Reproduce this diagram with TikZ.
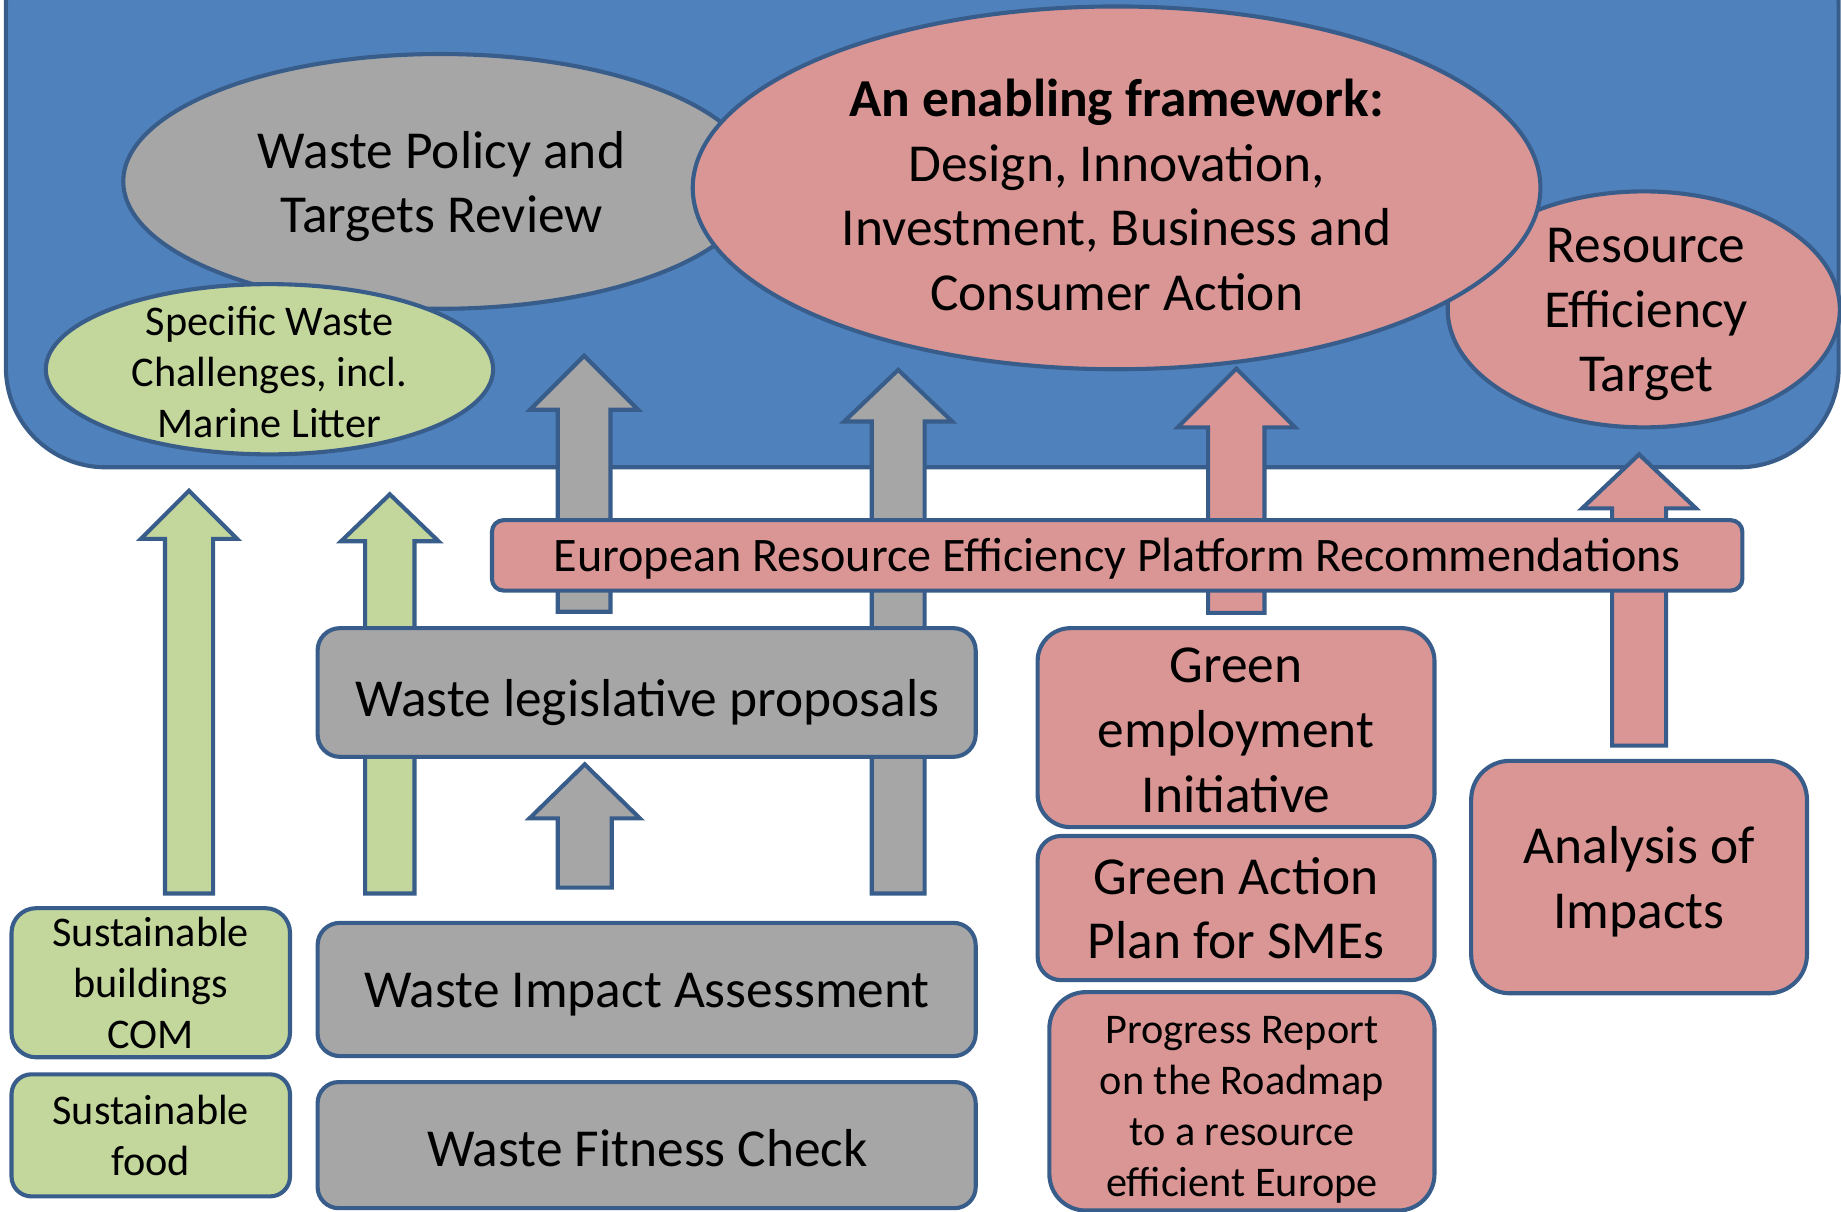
\documentclass[tikz,border=0pt]{standalone}
\usepackage{fontspec}
\setmainfont{Carlito}
\usetikzlibrary{shapes.geometric}
\definecolor{bluefill}{HTML}{4F81BD}
\definecolor{edgecol}{HTML}{385D8A}
\definecolor{grayfill}{HTML}{A6A6A6}
\definecolor{greenfill}{HTML}{C3D69B}
\definecolor{pinkfill}{HTML}{D99694}
\newcommand\bigtxt{\fontsize{45.5}{55}\selectfont}
\newcommand\smalltxt{\fontsize{36}{43.5}\selectfont}
\newcommand\bartxt{\fontsize{41}{48}\selectfont}
\tikzset{
  shp/.style={draw=edgecol, line width=3.5pt},
  ell/.style={shp, ellipse, inner sep=0pt},
  lbl/.style={align=center, inner sep=0pt},
  boxshape/.style={shp, rectangle, inner sep=0pt, align=center},
  blk/.style={shp, line join=miter},
}
% name, cx, tip, base, bottom, shaft half width, head half width, fill
\newcommand\blkarrow[8]{%
  \draw[blk, fill=#8] (#2-#6,#5) -- (#2-#6,#4) -- (#2-#7,#4) -- (#2,#3) coordinate (#1)
    -- (#2+#7,#4) -- (#2+#6,#4) -- (#2+#6,#5) -- cycle;}
\begin{document}
\begin{tikzpicture}[x=1pt,y=-1pt]
\useasboundingbox (0,0) rectangle (1568,1032);
\clip (0,0) rectangle (1568,1032);

% blue region
\draw[shp, fill=bluefill, rounded corners=85] (5,-80) rectangle (1566,398);
\coordinate (region) at (785,200);

% ellipses
\node[ell, fill=grayfill, minimum width=540, minimum height=217] (policy) at (375,154.5) {};
\node[lbl, font=\bigtxt] (policyT) at (376,159) {Waste Policy and\\Targets Review};

\node[ell, fill=greenfill, minimum width=381, minimum height=145] (specific) at (229.5,314.5) {};
\node[lbl, font=\smalltxt] (specificT) at (229.5,317) {Specific Waste\\Challenges, incl.\\Marine Litter};

\node[ell, fill=pinkfill, minimum width=334, minimum height=201] (target) at (1400,263.5) {};
\node[lbl, font=\bigtxt] (targetT) at (1402,268) {Resource\\Efficiency\\Target};

\node[ell, fill=pinkfill, minimum width=722, minimum height=309] (frame) at (951,160) {};
\node[lbl, font=\bigtxt] (frameT) at (951,166) {\textbf{An enabling framework:}\\Design, Innovation,\\Investment, Business and\\Consumer Action};

% block arrows
\blkarrow{ga1}{161}{418}{459}{761}{20.5}{41}{greenfill}
\blkarrow{ga2}{332}{421}{461}{761}{21}{41.5}{greenfill}
\blkarrow{ya1}{497.5}{303}{349}{521}{22.5}{46}{grayfill}
\blkarrow{ya2}{765}{315}{359}{761}{22.5}{46}{grayfill}
\blkarrow{ya3}{498}{651}{697}{756}{23}{47}{grayfill}
\blkarrow{pa1}{1053}{314}{364}{522}{24}{50}{pinkfill}
\blkarrow{pa2}{1396}{387}{433}{635}{23}{48.5}{pinkfill}

% platform bar
\node[boxshape, fill=pinkfill, rounded corners=10, minimum width=1065, minimum height=60] (platform) at (951.5,473) {};
\node[lbl, font=\bartxt] (platformT) at (951.5,476) {European Resource Efficiency Platform Recommendations};

% grey boxes
\node[boxshape, fill=grayfill, rounded corners=19, minimum width=560.5, minimum height=109.6] (legis) at (550.75,589.8) {};
\node[lbl, font=\bigtxt] (legisT) at (551.5,598) {Waste legislative proposals};
\node[boxshape, fill=grayfill, rounded corners=19, minimum width=560.5, minimum height=113.5] (impact) at (550.75,842.75) {};
\node[lbl, font=\bigtxt] (impactT) at (551,847) {Waste Impact Assessment};
\node[boxshape, fill=grayfill, rounded corners=18, minimum width=560.5, minimum height=107.4] (fitness) at (550.75,975.3) {};
\node[lbl, font=\bigtxt] (fitnessT) at (551.5,978) {Waste Fitness Check};

% green boxes
\node[boxshape, fill=greenfill, rounded corners=21, minimum width=237.2, minimum height=127, font=\smalltxt] (buildings) at (128.4,837) {Sustainable\\buildings\\COM};
\node[boxshape, fill=greenfill, rounded corners=17, minimum width=237.2, minimum height=104, font=\smalltxt] (food) at (128.4,967) {Sustainable\\food};

% pink boxes
\node[boxshape, fill=pinkfill, rounded corners=28, minimum width=338, minimum height=169.5] (employ) at (1052.75,619.75) {};
\node[lbl, font=\bigtxt] (employT) at (1052.75,622) {Green\\employment\\Initiative};
\node[boxshape, fill=pinkfill, rounded corners=20, minimum width=338, minimum height=122.8, font=\bigtxt] (sme) at (1052.75,773.4) {Green Action\\Plan for SMEs};
\node[boxshape, fill=pinkfill, rounded corners=31, minimum width=328, minimum height=186] (progress) at (1057.75,938) {};
\node[lbl, font=\smalltxt] (progressT) at (1057.75,945) {Progress Report\\on the Roadmap\\to a resource\\efficient Europe};
\node[boxshape, fill=pinkfill, rounded corners=33, minimum width=286, minimum height=198] (analysis) at (1396,747) {};
\node[lbl, font=\bigtxt] (analysisT) at (1396,751) {Analysis of\\Impacts};
\end{tikzpicture}
\end{document}
